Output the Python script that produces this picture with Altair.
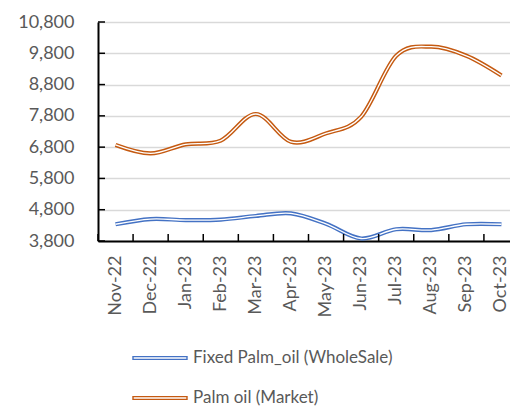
import altair as alt
import pandas as pd

months = ["Nov-22", "Dec-22", "Jan-23", "Feb-23", "Mar-23", "Apr-23",
          "May-23", "Jun-23", "Jul-23", "Aug-23", "Sep-23", "Oct-23"]
series_names = ["Fixed Palm_oil (WholeSale)", "Palm oil (Market)"]
wholesale = [4335, 4500, 4470, 4485, 4600, 4685, 4350, 3880, 4175, 4150, 4335, 4335]
market = [6870, 6600, 6890, 7010, 7860, 6970, 7240, 7770, 9720, 10010, 9720, 9090]
y_ticks = [3800, 4800, 5800, 6800, 7800, 8800, 9800, 10800]
colors = ["#4472C4", "#C55A11"]

df = pd.DataFrame({
    "month": months * 2,
    "value": wholesale + market,
    "series": [series_names[0]] * 12 + [series_names[1]] * 12,
})
tick_df = pd.DataFrame({"value": y_ticks})
month_df = pd.DataFrame({"month": months})

FONT = "Lato"
W, H = 421, 219  # plot runs a little past the right edge of the picture

x_scale = alt.Scale(type="band", paddingInner=0, paddingOuter=0, domain=months)
y_scale = alt.Scale(domain=[3800, 10800], nice=False, zero=False)

x_axis = alt.Axis(title=None, labelAngle=-90, ticks=False, domain=True,
                  domainColor="black", domainWidth=2, labelFont=FONT,
                  labelFontSize=18, labelColor="#595959", labelPadding=14,
                  grid=False)
y_axis = alt.Axis(title=None, values=y_ticks, format=",.0f", grid=True,
                  gridColor="#D9D9D9", gridWidth=1.5, ticks=False,
                  domainColor="black", domainWidth=2, labelFont=FONT,
                  labelFontSize=18, labelColor="#595959", labelPadding=24)


def xe(bp=0.5):
    return alt.X("month:N", scale=x_scale, bandPosition=bp, axis=x_axis)


def ye(field="value"):
    return alt.Y(f"{field}:Q", scale=y_scale, axis=y_axis)


# symbol is 18px "nominal" box; path spans 54px wide, ~2.7px tall
legend_path = "M-1,-0.15L5,-0.15L5,0.15L-1,0.15Z"
color_enc = alt.Color("series:N",
                      scale=alt.Scale(domain=series_names, range=colors),
                      legend=alt.Legend(orient="none", legendX=34, legendY=326,
                                        direction="vertical", title=None,
                                        symbolType=legend_path, symbolSize=324,
                                        symbolStrokeWidth=1.4, symbolFillColor="white",
                                        labelFont=FONT, labelFontSize=17,
                                        labelColor="#595959", rowPadding=22,
                                        labelOffset=41, labelLimit=0))

outer = alt.Chart(df).mark_line(interpolate="cardinal", strokeWidth=4.2).encode(
    x=xe(), y=ye(), color=color_enc)
inner = alt.Chart(df).mark_line(interpolate="cardinal", strokeWidth=1.3, color="white").encode(
    x=xe(), y=ye(), detail="series:N")

y_tick_rules = alt.Chart(tick_df).mark_rule(color="black", strokeWidth=1.5).encode(
    y=ye(), x=alt.value(0), x2=alt.value(7))
x_tick_rules = alt.Chart(month_df).mark_rule(color="black", strokeWidth=1.5).encode(
    x=xe(0), y=alt.value(H - 7), y2=alt.value(H))

chart = alt.layer(outer, inner, y_tick_rules, x_tick_rules).properties(
    width=W, height=H,
    autosize=alt.AutoSizeParams(type="none"),
    padding={"left": 90, "top": 14, "right": -9, "bottom": 169},
).configure_view(stroke=None).configure(background="white")

chart.save("out.html", embed_options={"renderer": "svg", "actions": False})
